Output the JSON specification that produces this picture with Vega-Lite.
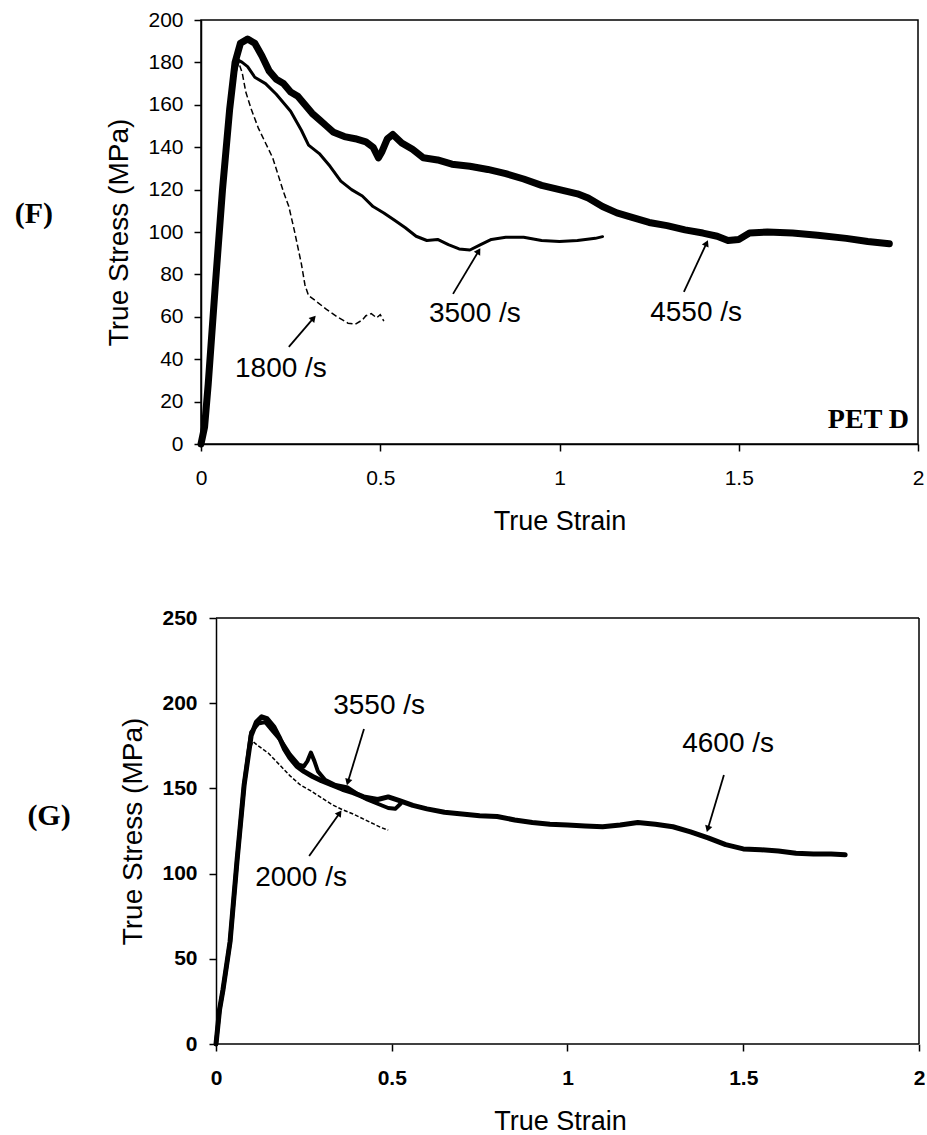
{
 "$schema": "https://vega.github.io/schema/vega-lite/v6.json",
 "padding": {"left": 14, "top": 8, "right": 0, "bottom": 5},
 "spacing": 72,
 "config": {
  "font": "Liberation Sans",
  "view": {"stroke": null},
  "axis": {"grid": false, "domainColor": "black", "domainWidth": 1.5, "tickColor": "black", "tickWidth": 1.5, "tickSize": 7, "labelColor": "black", "titleColor": "black", "labelFont": "Liberation Sans", "titleFont": "Liberation Sans", "labelFontSize": 21, "titleFontSize": 28, "titleFontWeight": "normal"},
  "axisX": {"labelPadding": 16, "titlePadding": 20, "labelFlush": false, "titleFontSize": 27},
  "axisY": {"labelPadding": 11, "titlePadding": 14}
 },
 "datasets": {
  "F": [
   {"rate":"4550 /s","strain":0,"stress":0},{"rate":"4550 /s","strain":0.01,"stress":8},{"rate":"4550 /s","strain":0.02,"stress":28},{"rate":"4550 /s","strain":0.04,"stress":75},{"rate":"4550 /s","strain":0.06,"stress":120},{"rate":"4550 /s","strain":0.08,"stress":158},{"rate":"4550 /s","strain":0.095,"stress":180},{"rate":"4550 /s","strain":0.11,"stress":189},{"rate":"4550 /s","strain":0.13,"stress":191},{"rate":"4550 /s","strain":0.15,"stress":189},{"rate":"4550 /s","strain":0.17,"stress":183},{"rate":"4550 /s","strain":0.19,"stress":176},{"rate":"4550 /s","strain":0.21,"stress":172},{"rate":"4550 /s","strain":0.23,"stress":170},{"rate":"4550 /s","strain":0.25,"stress":166},{"rate":"4550 /s","strain":0.27,"stress":164},{"rate":"4550 /s","strain":0.29,"stress":160},{"rate":"4550 /s","strain":0.31,"stress":156},{"rate":"4550 /s","strain":0.33,"stress":153},{"rate":"4550 /s","strain":0.35,"stress":150},{"rate":"4550 /s","strain":0.37,"stress":147},{"rate":"4550 /s","strain":0.4,"stress":145},{"rate":"4550 /s","strain":0.43,"stress":144},{"rate":"4550 /s","strain":0.46,"stress":142.5},{"rate":"4550 /s","strain":0.48,"stress":140},{"rate":"4550 /s","strain":0.495,"stress":135},{"rate":"4550 /s","strain":0.505,"stress":138},{"rate":"4550 /s","strain":0.52,"stress":144},{"rate":"4550 /s","strain":0.535,"stress":146},{"rate":"4550 /s","strain":0.56,"stress":142},{"rate":"4550 /s","strain":0.59,"stress":139},{"rate":"4550 /s","strain":0.62,"stress":135},{"rate":"4550 /s","strain":0.66,"stress":134},{"rate":"4550 /s","strain":0.7,"stress":132},{"rate":"4550 /s","strain":0.75,"stress":131},{"rate":"4550 /s","strain":0.8,"stress":129.5},{"rate":"4550 /s","strain":0.85,"stress":127.5},{"rate":"4550 /s","strain":0.9,"stress":125},{"rate":"4550 /s","strain":0.95,"stress":122},{"rate":"4550 /s","strain":1.0,"stress":120},{"rate":"4550 /s","strain":1.05,"stress":118},{"rate":"4550 /s","strain":1.08,"stress":116},{"rate":"4550 /s","strain":1.12,"stress":112},{"rate":"4550 /s","strain":1.16,"stress":109},{"rate":"4550 /s","strain":1.2,"stress":107},{"rate":"4550 /s","strain":1.25,"stress":104.5},{"rate":"4550 /s","strain":1.3,"stress":103},{"rate":"4550 /s","strain":1.35,"stress":101},{"rate":"4550 /s","strain":1.4,"stress":99.5},{"rate":"4550 /s","strain":1.44,"stress":98},{"rate":"4550 /s","strain":1.47,"stress":96},{"rate":"4550 /s","strain":1.5,"stress":96.5},{"rate":"4550 /s","strain":1.53,"stress":99.5},{"rate":"4550 /s","strain":1.58,"stress":100},{"rate":"4550 /s","strain":1.65,"stress":99.5},{"rate":"4550 /s","strain":1.72,"stress":98.5},{"rate":"4550 /s","strain":1.8,"stress":97},{"rate":"4550 /s","strain":1.86,"stress":95.5},{"rate":"4550 /s","strain":1.92,"stress":94.5},
   {"rate":"3500 /s","strain":0,"stress":0},{"rate":"3500 /s","strain":0.02,"stress":28},{"rate":"3500 /s","strain":0.04,"stress":75},{"rate":"3500 /s","strain":0.06,"stress":120},{"rate":"3500 /s","strain":0.08,"stress":155},{"rate":"3500 /s","strain":0.095,"stress":175},{"rate":"3500 /s","strain":0.105,"stress":181},{"rate":"3500 /s","strain":0.115,"stress":180},{"rate":"3500 /s","strain":0.13,"stress":178},{"rate":"3500 /s","strain":0.15,"stress":173},{"rate":"3500 /s","strain":0.18,"stress":170},{"rate":"3500 /s","strain":0.21,"stress":165},{"rate":"3500 /s","strain":0.25,"stress":157},{"rate":"3500 /s","strain":0.28,"stress":148},{"rate":"3500 /s","strain":0.3,"stress":141},{"rate":"3500 /s","strain":0.33,"stress":137},{"rate":"3500 /s","strain":0.36,"stress":131},{"rate":"3500 /s","strain":0.39,"stress":124},{"rate":"3500 /s","strain":0.42,"stress":120},{"rate":"3500 /s","strain":0.45,"stress":117},{"rate":"3500 /s","strain":0.48,"stress":112},{"rate":"3500 /s","strain":0.51,"stress":109},{"rate":"3500 /s","strain":0.54,"stress":105.5},{"rate":"3500 /s","strain":0.57,"stress":102},{"rate":"3500 /s","strain":0.6,"stress":98},{"rate":"3500 /s","strain":0.63,"stress":96},{"rate":"3500 /s","strain":0.66,"stress":96.5},{"rate":"3500 /s","strain":0.69,"stress":94},{"rate":"3500 /s","strain":0.72,"stress":92},{"rate":"3500 /s","strain":0.75,"stress":91.5},{"rate":"3500 /s","strain":0.78,"stress":94},{"rate":"3500 /s","strain":0.81,"stress":96.5},{"rate":"3500 /s","strain":0.85,"stress":97.5},{"rate":"3500 /s","strain":0.9,"stress":97.5},{"rate":"3500 /s","strain":0.95,"stress":96},{"rate":"3500 /s","strain":1.0,"stress":95.5},{"rate":"3500 /s","strain":1.05,"stress":96},{"rate":"3500 /s","strain":1.1,"stress":97},{"rate":"3500 /s","strain":1.12,"stress":97.8},
   {"rate":"1800 /s","strain":0,"stress":0},{"rate":"1800 /s","strain":0.02,"stress":28},{"rate":"1800 /s","strain":0.04,"stress":75},{"rate":"1800 /s","strain":0.06,"stress":120},{"rate":"1800 /s","strain":0.08,"stress":155},{"rate":"1800 /s","strain":0.095,"stress":175},{"rate":"1800 /s","strain":0.105,"stress":180},{"rate":"1800 /s","strain":0.115,"stress":175},{"rate":"1800 /s","strain":0.125,"stress":166},{"rate":"1800 /s","strain":0.14,"stress":158},{"rate":"1800 /s","strain":0.16,"stress":149},{"rate":"1800 /s","strain":0.18,"stress":142},{"rate":"1800 /s","strain":0.2,"stress":135},{"rate":"1800 /s","strain":0.215,"stress":127},{"rate":"1800 /s","strain":0.23,"stress":119},{"rate":"1800 /s","strain":0.245,"stress":112},{"rate":"1800 /s","strain":0.26,"stress":101},{"rate":"1800 /s","strain":0.27,"stress":93},{"rate":"1800 /s","strain":0.28,"stress":85},{"rate":"1800 /s","strain":0.29,"stress":75},{"rate":"1800 /s","strain":0.3,"stress":70},{"rate":"1800 /s","strain":0.32,"stress":67.5},{"rate":"1800 /s","strain":0.35,"stress":63.5},{"rate":"1800 /s","strain":0.38,"stress":60},{"rate":"1800 /s","strain":0.41,"stress":57},{"rate":"1800 /s","strain":0.43,"stress":56.5},{"rate":"1800 /s","strain":0.45,"stress":58.5},{"rate":"1800 /s","strain":0.46,"stress":60.5},{"rate":"1800 /s","strain":0.475,"stress":61.5},{"rate":"1800 /s","strain":0.49,"stress":59.5},{"rate":"1800 /s","strain":0.5,"stress":61},{"rate":"1800 /s","strain":0.51,"stress":58}
  ],
  "G": [
   {"rate":"4600 /s","strain":0,"stress":0},{"rate":"4600 /s","strain":0.01,"stress":20},{"rate":"4600 /s","strain":0.02,"stress":32},{"rate":"4600 /s","strain":0.04,"stress":60},{"rate":"4600 /s","strain":0.06,"stress":108},{"rate":"4600 /s","strain":0.08,"stress":152},{"rate":"4600 /s","strain":0.1,"stress":181},{"rate":"4600 /s","strain":0.115,"stress":189},{"rate":"4600 /s","strain":0.13,"stress":192},{"rate":"4600 /s","strain":0.145,"stress":191},{"rate":"4600 /s","strain":0.165,"stress":186},{"rate":"4600 /s","strain":0.18,"stress":180},{"rate":"4600 /s","strain":0.195,"stress":173},{"rate":"4600 /s","strain":0.21,"stress":168},{"rate":"4600 /s","strain":0.23,"stress":163},{"rate":"4600 /s","strain":0.25,"stress":160},{"rate":"4600 /s","strain":0.275,"stress":157},{"rate":"4600 /s","strain":0.3,"stress":154.5},{"rate":"4600 /s","strain":0.33,"stress":152},{"rate":"4600 /s","strain":0.36,"stress":149.5},{"rate":"4600 /s","strain":0.39,"stress":147.5},{"rate":"4600 /s","strain":0.42,"stress":145},{"rate":"4600 /s","strain":0.46,"stress":143.5},{"rate":"4600 /s","strain":0.49,"stress":145},{"rate":"4600 /s","strain":0.52,"stress":143},{"rate":"4600 /s","strain":0.56,"stress":140},{"rate":"4600 /s","strain":0.6,"stress":138},{"rate":"4600 /s","strain":0.65,"stress":136},{"rate":"4600 /s","strain":0.7,"stress":135},{"rate":"4600 /s","strain":0.75,"stress":134},{"rate":"4600 /s","strain":0.8,"stress":133.5},{"rate":"4600 /s","strain":0.85,"stress":131.5},{"rate":"4600 /s","strain":0.9,"stress":130},{"rate":"4600 /s","strain":0.95,"stress":129},{"rate":"4600 /s","strain":1.0,"stress":128.5},{"rate":"4600 /s","strain":1.05,"stress":128},{"rate":"4600 /s","strain":1.1,"stress":127.5},{"rate":"4600 /s","strain":1.15,"stress":128.5},{"rate":"4600 /s","strain":1.2,"stress":130},{"rate":"4600 /s","strain":1.25,"stress":129},{"rate":"4600 /s","strain":1.3,"stress":127.5},{"rate":"4600 /s","strain":1.35,"stress":124.5},{"rate":"4600 /s","strain":1.4,"stress":121},{"rate":"4600 /s","strain":1.45,"stress":117},{"rate":"4600 /s","strain":1.5,"stress":114.5},{"rate":"4600 /s","strain":1.55,"stress":114},{"rate":"4600 /s","strain":1.6,"stress":113.3},{"rate":"4600 /s","strain":1.65,"stress":112},{"rate":"4600 /s","strain":1.7,"stress":111.5},{"rate":"4600 /s","strain":1.75,"stress":111.5},{"rate":"4600 /s","strain":1.79,"stress":111},
   {"rate":"3550 /s","strain":0,"stress":0},{"rate":"3550 /s","strain":0.01,"stress":20},{"rate":"3550 /s","strain":0.02,"stress":32},{"rate":"3550 /s","strain":0.04,"stress":60},{"rate":"3550 /s","strain":0.06,"stress":108},{"rate":"3550 /s","strain":0.08,"stress":152},{"rate":"3550 /s","strain":0.1,"stress":183},{"rate":"3550 /s","strain":0.12,"stress":188},{"rate":"3550 /s","strain":0.14,"stress":189},{"rate":"3550 /s","strain":0.16,"stress":184},{"rate":"3550 /s","strain":0.185,"stress":178},{"rate":"3550 /s","strain":0.21,"stress":170},{"rate":"3550 /s","strain":0.235,"stress":164},{"rate":"3550 /s","strain":0.25,"stress":163},{"rate":"3550 /s","strain":0.26,"stress":166},{"rate":"3550 /s","strain":0.27,"stress":171},{"rate":"3550 /s","strain":0.28,"stress":166},{"rate":"3550 /s","strain":0.29,"stress":160},{"rate":"3550 /s","strain":0.31,"stress":155},{"rate":"3550 /s","strain":0.34,"stress":152},{"rate":"3550 /s","strain":0.375,"stress":150.5},{"rate":"3550 /s","strain":0.4,"stress":147},{"rate":"3550 /s","strain":0.43,"stress":143.5},{"rate":"3550 /s","strain":0.46,"stress":141},{"rate":"3550 /s","strain":0.49,"stress":138.5},{"rate":"3550 /s","strain":0.51,"stress":138},{"rate":"3550 /s","strain":0.525,"stress":141},
   {"rate":"2000 /s","strain":0,"stress":0},{"rate":"2000 /s","strain":0.01,"stress":20},{"rate":"2000 /s","strain":0.02,"stress":32},{"rate":"2000 /s","strain":0.04,"stress":60},{"rate":"2000 /s","strain":0.06,"stress":108},{"rate":"2000 /s","strain":0.08,"stress":150},{"rate":"2000 /s","strain":0.095,"stress":172},{"rate":"2000 /s","strain":0.105,"stress":177.5},{"rate":"2000 /s","strain":0.12,"stress":175},{"rate":"2000 /s","strain":0.15,"stress":170.5},{"rate":"2000 /s","strain":0.18,"stress":164},{"rate":"2000 /s","strain":0.21,"stress":157.5},{"rate":"2000 /s","strain":0.24,"stress":152},{"rate":"2000 /s","strain":0.27,"stress":148.5},{"rate":"2000 /s","strain":0.3,"stress":144.5},{"rate":"2000 /s","strain":0.33,"stress":140.5},{"rate":"2000 /s","strain":0.36,"stress":137.5},{"rate":"2000 /s","strain":0.39,"stress":135},{"rate":"2000 /s","strain":0.42,"stress":132},{"rate":"2000 /s","strain":0.45,"stress":129},{"rate":"2000 /s","strain":0.47,"stress":127},{"rate":"2000 /s","strain":0.49,"stress":125.5}
  ],
  "labF": [{"label":"1800 /s","strain":0.223,"stress":35.4},{"label":"3500 /s","strain":0.764,"stress":61.3},{"label":"4550 /s","strain":1.381,"stress":61.8}],
  "arrF": [{"label":"1800 /s","strain":0.245,"stress":45.8,"strain2":0.312,"stress2":59},{"label":"3500 /s","strain":0.703,"stress":70.8,"strain2":0.773,"stress2":90.6},{"label":"4550 /s","strain":1.347,"stress":71.7,"strain2":1.409,"stress2":94.3}],
  "tagF": [{"label":"(F)","strain":-0.466,"stress":108.5}],
  "petF": [{"label":"PET D","strain":1.975,"stress":11.3}],
  "labG": [{"label":"3550 /s","strain":0.464,"stress":198.4},{"label":"2000 /s","strain":0.242,"stress":97.4},{"label":"4600 /s","strain":1.457,"stress":176}],
  "arrG": [{"label":"3550 /s","strain":0.421,"stress":184.9,"strain2":0.376,"stress2":154.3},{"label":"2000 /s","strain":0.265,"stress":110.3,"strain2":0.35,"stress2":135},{"label":"4600 /s","strain":1.445,"stress":157.9,"strain2":1.4,"stress2":126.8}],
  "tagG": [{"label":"(G)","strain":-0.475,"stress":133.8}],
  "boxG": [{"strain":0,"strain2":2,"stress":250,"stress2":250},{"strain":2,"strain2":2,"stress":0,"stress2":250},{"strain":0,"strain2":2,"stress":0,"stress2":0}]
 },
 "vconcat": [
  {
   "width": 717, "height": 424,
   "view": {"stroke": "black", "strokeWidth": 1.5},
   "encoding": {
    "x": {"field": "strain", "type": "quantitative", "scale": {"domain": [0, 2], "nice": false, "zero": false}, "axis": {"values": [0, 0.5, 1, 1.5, 2], "format": "~g", "title": "True Strain"}},
    "y": {"field": "stress", "type": "quantitative", "scale": {"domain": [0, 200], "nice": false}, "axis": {"values": [0,20,40,60,80,100,120,140,160,180,200], "title": "True Stress (MPa)"}}
   },
   "layer": [
    {"data": {"name": "F"}, "transform": [{"filter": "datum.rate === '4550 /s'"}], "mark": {"type": "line", "color": "black", "strokeWidth": 7, "strokeCap": "round", "strokeJoin": "round"}},
    {"data": {"name": "F"}, "transform": [{"filter": "datum.rate === '3500 /s'"}], "mark": {"type": "line", "color": "black", "strokeWidth": 3, "strokeCap": "round", "strokeJoin": "round"}},
    {"data": {"name": "F"}, "transform": [{"filter": "datum.rate === '1800 /s'"}], "mark": {"type": "line", "color": "black", "strokeWidth": 1.5, "strokeDash": [6, 3]}},
    {"data": {"name": "labF"}, "mark": {"type": "text", "fontSize": 28, "font": "Liberation Sans", "color": "black", "align": "center", "baseline": "middle"}, "encoding": {"text": {"field": "label"}}},
    {"data": {"name": "tagF"}, "mark": {"type": "text", "fontSize": 30, "font": "Liberation Serif", "fontWeight": "bold", "color": "black", "align": "center", "baseline": "middle"}, "encoding": {"text": {"field": "label"}}},
    {"data": {"name": "petF"}, "mark": {"type": "text", "fontSize": 28, "font": "Liberation Serif", "fontWeight": "bold", "color": "black", "align": "right", "baseline": "middle"}, "encoding": {"text": {"field": "label"}}},
    {"data": {"name": "arrF"}, "mark": {"type": "rule", "color": "black", "strokeWidth": 1.8}, "encoding": {"x2": {"field": "strain2"}, "y2": {"field": "stress2"}}},
    {"data": {"name": "arrF"}, "transform": [{"filter": "datum.label === '1800 /s'"}], "mark": {"type": "point", "shape": "triangle", "filled": true, "color": "black", "opacity": 1, "size": 55, "angle": 41}, "encoding": {"x": {"field": "strain2", "type": "quantitative"}, "y": {"field": "stress2", "type": "quantitative"}}},
    {"data": {"name": "arrF"}, "transform": [{"filter": "datum.label === '3500 /s'"}], "mark": {"type": "point", "shape": "triangle", "filled": true, "color": "black", "opacity": 1, "size": 55, "angle": 31}, "encoding": {"x": {"field": "strain2", "type": "quantitative"}, "y": {"field": "stress2", "type": "quantitative"}}},
    {"data": {"name": "arrF"}, "transform": [{"filter": "datum.label === '4550 /s'"}], "mark": {"type": "point", "shape": "triangle", "filled": true, "color": "black", "opacity": 1, "size": 55, "angle": 25}, "encoding": {"x": {"field": "strain2", "type": "quantitative"}, "y": {"field": "stress2", "type": "quantitative"}}}
   ]
  },
  {
   "width": 718, "height": 426,
   "encoding": {
    "x": {"field": "strain", "type": "quantitative", "scale": {"domain": [-0.04267, 2], "nice": false, "zero": false}, "axis": {"values": [0, 0.5, 1, 1.5, 2], "format": "~g", "title": "True Strain", "domain": false, "labelFontWeight": "bold"}},
    "y": {"field": "stress", "type": "quantitative", "scale": {"domain": [0, 250], "nice": false}, "axis": {"values": [0, 50, 100, 150, 200, 250], "title": "True Stress (MPa)", "offset": -15, "labelFontWeight": "bold", "labelPadding": 12}}
   },
   "layer": [
    {"data": {"name": "boxG"}, "mark": {"type": "rule", "color": "black", "strokeWidth": 1.5}, "encoding": {"x2": {"field": "strain2"}, "y2": {"field": "stress2"}}},
    {"data": {"name": "G"}, "transform": [{"filter": "datum.rate === '4600 /s'"}], "mark": {"type": "line", "color": "black", "strokeWidth": 5, "strokeCap": "round", "strokeJoin": "round"}},
    {"data": {"name": "G"}, "transform": [{"filter": "datum.rate === '3550 /s'"}], "mark": {"type": "line", "color": "black", "strokeWidth": 4, "strokeCap": "round", "strokeJoin": "round"}},
    {"data": {"name": "G"}, "transform": [{"filter": "datum.rate === '2000 /s'"}], "mark": {"type": "line", "color": "black", "strokeWidth": 1.5, "strokeDash": [4, 2]}},
    {"data": {"name": "labG"}, "mark": {"type": "text", "fontSize": 28, "font": "Liberation Sans", "color": "black", "align": "center", "baseline": "middle"}, "encoding": {"text": {"field": "label"}}},
    {"data": {"name": "tagG"}, "mark": {"type": "text", "fontSize": 30, "font": "Liberation Serif", "fontWeight": "bold", "color": "black", "align": "center", "baseline": "middle"}, "encoding": {"text": {"field": "label"}}},
    {"data": {"name": "arrG"}, "mark": {"type": "rule", "color": "black", "strokeWidth": 1.8}, "encoding": {"x2": {"field": "strain2"}, "y2": {"field": "stress2"}}},
    {"data": {"name": "arrG"}, "transform": [{"filter": "datum.label === '3550 /s'"}], "mark": {"type": "point", "shape": "triangle", "filled": true, "color": "black", "opacity": 1, "size": 55, "angle": 197}, "encoding": {"x": {"field": "strain2", "type": "quantitative"}, "y": {"field": "stress2", "type": "quantitative"}}},
    {"data": {"name": "arrG"}, "transform": [{"filter": "datum.label === '2000 /s'"}], "mark": {"type": "point", "shape": "triangle", "filled": true, "color": "black", "opacity": 1, "size": 55, "angle": 35}, "encoding": {"x": {"field": "strain2", "type": "quantitative"}, "y": {"field": "stress2", "type": "quantitative"}}},
    {"data": {"name": "arrG"}, "transform": [{"filter": "datum.label === '4600 /s'"}], "mark": {"type": "point", "shape": "triangle", "filled": true, "color": "black", "opacity": 1, "size": 55, "angle": 197}, "encoding": {"x": {"field": "strain2", "type": "quantitative"}, "y": {"field": "stress2", "type": "quantitative"}}}
   ]
  }
 ]
}
